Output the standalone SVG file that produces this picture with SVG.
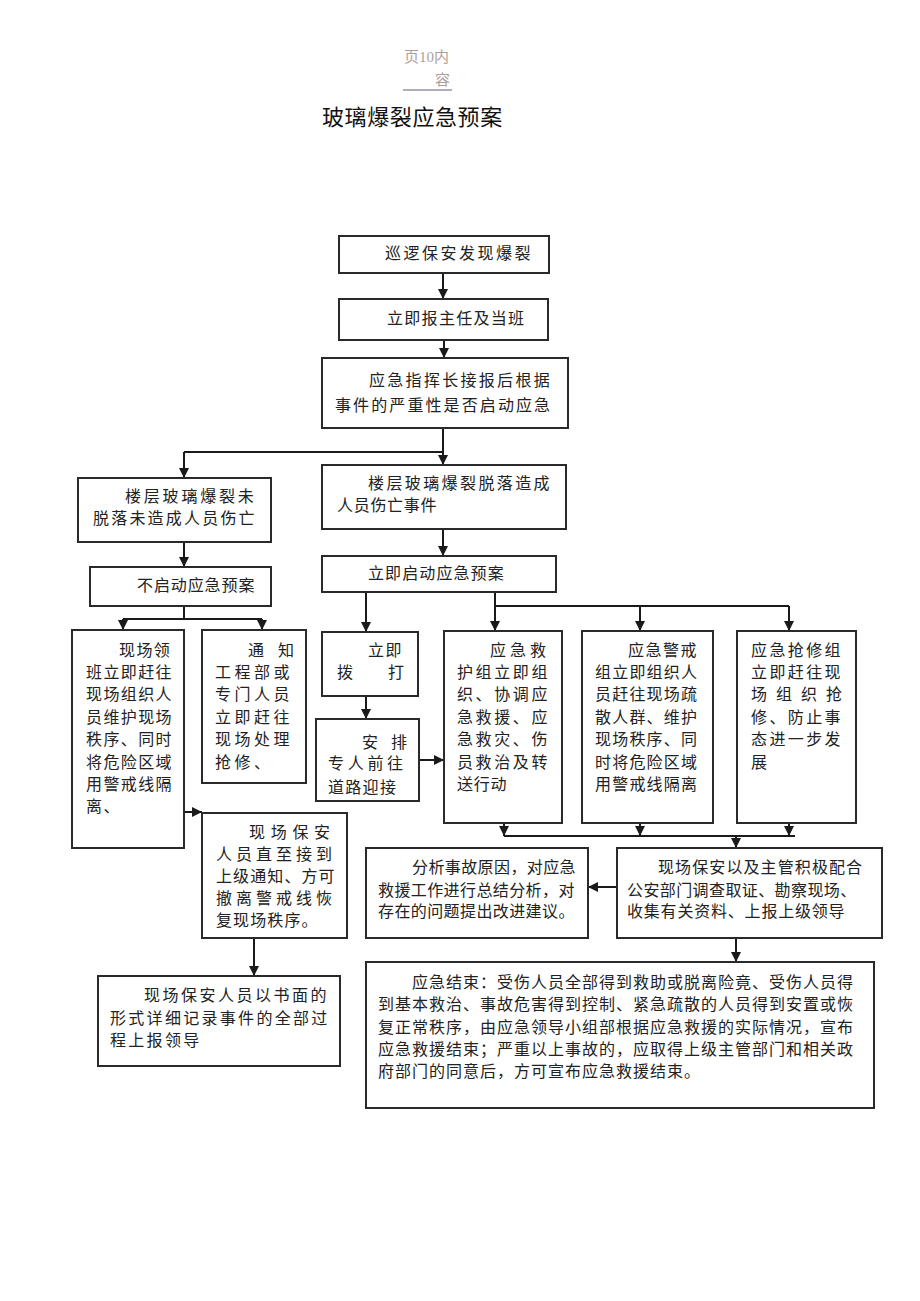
<svg xmlns="http://www.w3.org/2000/svg" width="920" height="1301" viewBox="0 0 920 1301">
<defs>
<marker id="ah" markerWidth="10" markerHeight="10" refX="10" refY="5" orient="auto" markerUnits="userSpaceOnUse">
<path d="M0,0 L10,5 L0,10 z" fill="#1a1a1a"/>
</marker>
<style>
.b{fill:#fff;stroke:#2a2a2a;stroke-width:2}
.t{font-family:"Liberation Serif","Noto Sans CJK SC",serif;font-size:16px;fill:#222}
.c{fill:none;stroke:#1a1a1a;stroke-width:2}
.a{fill:none;stroke:#1a1a1a;stroke-width:2;marker-end:url(#ah)}
.h{font-family:"Liberation Serif","Noto Sans CJK SC",serif;font-size:15px;fill:#ad9f98}
</style>
</defs>
<rect width="920" height="1301" fill="#fff"/>
<g id="header">
<text class="h" x="404" y="62">页10内</text>
<text class="h" x="435" y="85">容</text>
<line x1="403" y1="90" x2="452" y2="90" stroke="#9a8fa8" stroke-width="1.5"/>
<text x="322" y="125" style="font-family:'Liberation Serif','Noto Sans CJK SC',serif;font-size:22px;letter-spacing:0.6px;fill:#111">玻璃爆裂应急预案</text>
</g>
<g id="connectors">
<line class="a" x1="443" y1="273" x2="443" y2="299"/>
<line class="a" x1="444" y1="340" x2="444" y2="358"/>
<polyline class="c" points="443,428 443,452 184,452"/>
<line class="a" x1="184" y1="452" x2="184" y2="478"/>
<line class="a" x1="443" y1="452" x2="443" y2="465"/>
<line class="a" x1="184" y1="542" x2="184" y2="567"/>
<line class="a" x1="443" y1="529" x2="443" y2="556"/>
<polyline class="c" points="184,606 184,619"/>
<line class="c" x1="123" y1="619" x2="262" y2="619"/>
<line class="a" x1="123" y1="619" x2="123" y2="630"/>
<line class="a" x1="262" y1="619" x2="262" y2="630"/>
<line class="a" x1="366" y1="592" x2="366" y2="632"/>
<polyline class="c" points="495,592 495,606"/>
<line class="c" x1="495" y1="606" x2="789" y2="606"/>
<line class="a" x1="495" y1="606" x2="495" y2="631"/>
<line class="a" x1="640" y1="606" x2="640" y2="631"/>
<line class="a" x1="789" y1="606" x2="789" y2="631"/>
<line class="a" x1="366" y1="696" x2="366" y2="719"/>
<line class="a" x1="419" y1="760" x2="444" y2="760"/>
<line class="a" x1="504" y1="823" x2="504" y2="836"/>
<line class="a" x1="640" y1="823" x2="640" y2="836"/>
<line class="a" x1="789" y1="823" x2="789" y2="836"/>
<line class="c" x1="504" y1="836" x2="795" y2="836"/>
<line class="a" x1="736" y1="836" x2="736" y2="848"/>
<line class="a" x1="617" y1="887" x2="588" y2="887"/>
<line class="a" x1="736" y1="938" x2="736" y2="962"/>
<line class="a" x1="184" y1="812" x2="202" y2="812"/>
<line class="a" x1="254" y1="938" x2="254" y2="976"/>
</g>
<g id="n1"><rect class="b" x="339" y="236" width="210" height="37"/>
<text class="t" x="385" y="259" style="letter-spacing:2.5px">巡逻保安发现爆裂</text></g>
<g id="n2"><rect class="b" x="339" y="299" width="209" height="41"/>
<text class="t" x="387" y="324" style="letter-spacing:1.3px">立即报主任及当班</text></g>
<g id="n3"><rect class="b" x="322" y="358" width="246" height="70"/>
<text class="t" x="369" y="386" style="letter-spacing:2.3px">应急指挥长接报后根据</text>
<text class="t" x="335" y="411" style="letter-spacing:2.1px">事件的严重性是否启动应急</text></g>
<g id="nA"><rect class="b" x="78" y="478" width="193" height="64"/>
<text class="t" x="125" y="502" style="letter-spacing:2.8px">楼层玻璃爆裂未</text>
<text class="t" x="93" y="524" style="letter-spacing:2.2px">脱落未造成人员伤亡</text></g>
<g id="nB"><rect class="b" x="322" y="465" width="244" height="64"/>
<text class="t" x="368" y="489" style="letter-spacing:2.4px">楼层玻璃爆裂脱落造成</text>
<text class="t" x="337" y="511" style="letter-spacing:0.7px">人员伤亡事件</text></g>
<g id="nC"><rect class="b" x="90" y="567" width="181" height="39"/>
<text class="t" x="137" y="591" style="letter-spacing:0.9px">不启动应急预案</text></g>
<g id="nD"><rect class="b" x="322" y="556" width="234" height="36"/>
<text class="t" x="368" y="579" style="letter-spacing:1.1px">立即启动应急预案</text></g>
<g id="nE"><rect class="b" x="72" y="630" width="112" height="218"/>
<g class="t" style="letter-spacing:1.4px">
<text x="119" y="656">现场领</text>
<text x="86" y="678">班立即赶往</text>
<text x="86" y="700">现场组织人</text>
<text x="86" y="723">员维护现场</text>
<text x="86" y="745">秩序、同时</text>
<text x="86" y="768">将危险区域</text>
<text x="86" y="790">用警戒线隔</text>
<text x="86" y="812">离、</text></g></g>
<g id="nF"><rect class="b" x="202" y="630" width="104" height="153"/>
<g class="t" style="letter-spacing:3.5px">
<text x="248" y="656" style="letter-spacing:14px">通知</text>
<text x="215" y="678">工程部或</text>
<text x="215" y="700">专门人员</text>
<text x="215" y="723">立即赶往</text>
<text x="215" y="745">现场处理</text>
<text x="215" y="768">抢修、</text></g></g>
<g id="nG"><rect class="b" x="322" y="632" width="96" height="64"/>
<text class="t" x="368" y="656" style="letter-spacing:1.5px">立即</text>
<text class="t" x="337" y="678">拨</text>
<text class="t" x="388" y="678">打</text></g>
<g id="nP"><rect class="b" x="316" y="719" width="103" height="82"/>
<text class="t" x="362" y="748" style="letter-spacing:13px">安排</text>
<text class="t" x="328" y="769" style="letter-spacing:3.7px">专人前往</text>
<text class="t" x="328" y="793" style="letter-spacing:1.3px">道路迎接</text></g>
<g id="nH"><rect class="b" x="444" y="631" width="118" height="192"/>
<g class="t" style="letter-spacing:2.6px">
<text x="490" y="656" style="letter-spacing:4px">应急救</text>
<text x="457" y="678">护组立即组</text>
<text x="457" y="700">织、协调应</text>
<text x="457" y="723">急救援、应</text>
<text x="457" y="745">急救灾、伤</text>
<text x="457" y="768">员救治及转</text>
<text x="457" y="790" style="letter-spacing:0.7px">送行动</text></g></g>
<g id="nI"><rect class="b" x="582" y="631" width="131" height="192"/>
<g class="t" style="letter-spacing:1.2px">
<text x="628" y="656" style="letter-spacing:1.5px">应急警戒</text>
<text x="595" y="678">组立即组织人</text>
<text x="595" y="700">员赶往现场疏</text>
<text x="595" y="723">散人群、维护</text>
<text x="595" y="745">现场秩序、同</text>
<text x="595" y="768">时将危险区域</text>
<text x="595" y="790">用警戒线隔离</text></g></g>
<g id="nJ"><rect class="b" x="737" y="631" width="119" height="192"/>
<g class="t" style="letter-spacing:2.4px">
<text x="751" y="656">应急抢修组</text>
<text x="751" y="678">立即赶往现</text>
<text x="751" y="700" style="letter-spacing:9px">场组织抢</text>
<text x="751" y="723">修、防止事</text>
<text x="751" y="745">态进一步发</text>
<text x="751" y="768">展</text></g></g>
<g id="nN"><rect class="b" x="202" y="813" width="145" height="125"/>
<g class="t">
<text x="249" y="838" style="letter-spacing:5.7px">现场保安</text>
<text x="216" y="860" style="letter-spacing:4px">人员直至接到</text>
<text x="216" y="882" style="letter-spacing:1.1px">上级通知、方可</text>
<text x="216" y="904" style="letter-spacing:4px">撤离警戒线恢</text>
<text x="216" y="926" style="letter-spacing:1.1px">复现场秩序。</text></g></g>
<g id="nO"><rect class="b" x="98" y="976" width="242" height="90"/>
<g class="t" style="letter-spacing:2.3px">
<text x="144" y="1001" style="letter-spacing:2.5px">现场保安人员以书面的</text>
<text x="110" y="1024">形式详细记录事件的全部过</text>
<text x="110" y="1046">程上报领导</text></g></g>
<g id="nK"><rect class="b" x="366" y="848" width="222" height="90"/>
<g class="t" style="letter-spacing:0.4px">
<text x="412" y="873">分析事故原因，对应急</text>
<text x="378" y="896">救援工作进行总结分析，对</text>
<text x="378" y="917">存在的问题提出改进建议。</text></g></g>
<g id="nL"><rect class="b" x="617" y="848" width="265" height="90"/>
<g class="t">
<text x="658" y="873" style="letter-spacing:1.1px">现场保安以及主管积极配合</text>
<text x="627" y="896" style="letter-spacing:0.4px">公安部门调查取证、勘察现场、</text>
<text x="627" y="917" style="letter-spacing:0.8px">收集有关资料、上报上级领导</text></g></g>
<g id="nM"><rect class="b" x="366" y="962" width="508" height="146"/>
<g class="t" style="letter-spacing:1px">
<text x="412" y="988">应急结束：受伤人员全部得到救助或脱离险竟、受伤人员得</text>
<text x="378" y="1010">到基本救治、事故危害得到控制、紧急疏散的人员得到安置或恢</text>
<text x="378" y="1033">复正常秩序，由应急领导小组部根据应急救援的实际情况，宣布</text>
<text x="378" y="1055">应急救援结束；严重以上事故的，应取得上级主管部门和相关政</text>
<text x="378" y="1077">府部门的同意后，方可宣布应急救援结束。</text></g></g>
</svg>
